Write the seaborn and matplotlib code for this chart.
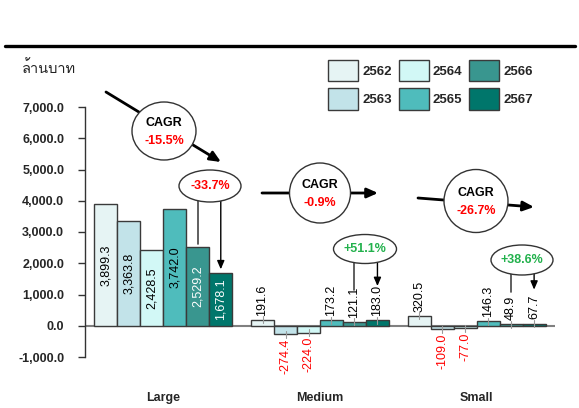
import numpy as np
import pandas as pd
import matplotlib
matplotlib.use("Agg")
import matplotlib.pyplot as plt
import seaborn as sns
from matplotlib import font_manager
from matplotlib.ft2font import FT2Font
from matplotlib.patches import Ellipse, FancyArrowPatch
from matplotlib.lines import Line2D
from matplotlib.transforms import Affine2D

# ---------------- data ----------------
categories = ["Large", "Medium", "Small"]
years = ["2562", "2563", "2564", "2565", "2566", "2567"]
large = [3899.3, 3363.8, 2428.5, 3742.0, 2529.2, 1678.1]
medium = [191.6, -274.4, -224.0, 173.2, 121.1, 183.0]
small = [320.5, -109.0, -77.0, 146.3, 48.9, 67.7]
cagr = ["-15.5%", "-0.9%", "-26.7%"]
yoy = ["-33.7%", "+51.1%", "+38.6%"]
yticks = [-1000, 0, 1000, 2000, 3000, 4000, 5000, 6000, 7000]
ylabel = "ล้านบาท"

palette = ["#E6F4F4", "#C2E3E9", "#D2F8F6", "#4FBCBC", "#39968F", "#00766B"]

rows = []
for cat, vals in zip(categories, [large, medium, small]):
    for y, v in zip(years, vals):
        rows.append({"cat": cat, "year": y, "value": v})
df = pd.DataFrame(rows)

# ---------------- fonts ----------------
sns.set_style("white")
thai_font = None
for f in font_manager.fontManager.ttflist:
    try:
        cm = FT2Font(f.fname).get_charmap()
        if 0x0E25 in cm and 0x0E49 in cm:
            thai_font = f.name
            break
    except Exception:
        pass
base = ["Liberation Sans", "DejaVu Sans"]
plt.rcParams["font.family"] = base
thai_family = ([thai_font] if thai_font else []) + base

W, H = 579, 408
fig = plt.figure(figsize=(W / 100, H / 100), dpi=100)
ax = fig.add_axes([85 / W, 51 / H, 470 / W, 250 / H])

sns.barplot(data=df, x="cat", y="value", hue="year", palette=palette,
            width=0.88, gap=0, edgecolor="#3a3a3a", linewidth=1.0,
            saturation=1, ax=ax, legend=True, errorbar=None, zorder=2)

ax.set_xlim(-0.5, 2.5)
ax.set_ylim(-1000, 7000)
ax.set_yticks(yticks)
ax.set_yticklabels([f"{t:,.1f}" for t in yticks], fontsize=9, fontweight="bold")
ax.set_xticks(range(3))
ax.set_xticklabels(categories, fontsize=9, fontweight="bold")
ax.tick_params(axis="x", length=0, pad=25)
ax.tick_params(axis="y", length=5, width=1, color="#333333", pad=10, left=True)
ax.set_xlabel("")
ax.set_ylabel("")
for s in ["top", "right", "bottom"]:
    ax.spines[s].set_visible(False)
ax.spines["left"].set_color("#333333")
ax.spines["left"].set_linewidth(1)
ax.axhline(0, color="#808080", lw=1.5, zorder=1)

# legend
handles, labels = ax.get_legend_handles_labels()
ax.legend(handles, labels, ncol=3, frameon=False, prop={"weight": "bold", "size": 9.5},
          handlelength=2.3, handleheight=2.1, handletextpad=0.3, columnspacing=0.5,
          labelspacing=0.55, loc="upper left",
          bbox_to_anchor=(328 / W, 1 - 60 / H), bbox_transform=fig.transFigure,
          borderpad=0, borderaxespad=0)

# pixel (top-left origin) transform
T = Affine2D().scale(1, -1).translate(0, H)


def to_px(x, y):
    dx, dy = ax.transData.transform((x, y))
    return dx, H - dy


# value labels
for hi, cont in enumerate(ax.containers):
    for ci, bar in enumerate(cont):
        v = bar.get_height()
        xc = bar.get_x() + bar.get_width() / 2
        if ci == 0:
            color = "white" if hi >= 4 else "black"
            ax.text(xc, v / 2, f"{v:,.1f}", rotation=90, ha="center", va="center",
                    fontsize=9, color=color, zorder=5)
        else:
            px, py = to_px(xc, v)
            fig.add_artist(Line2D([px, px], [py - 3.5, py + 3.5], transform=T,
                                  color="#9a9a9a", lw=0.8, zorder=6))
            if v >= 0:
                ax.annotate(f"{v:,.1f}", (xc, v), xytext=(0, 3), textcoords="offset points",
                            rotation=90, ha="center", va="bottom", fontsize=9,
                            color="black", zorder=5)
            else:
                ax.annotate(f"{v:,.1f}", (xc, v), xytext=(0, -3), textcoords="offset points",
                            rotation=90, ha="center", va="top", fontsize=9,
                            color="#FF0000", zorder=5)

# top rule
fig.add_artist(Line2D([5, 575], [46, 46], transform=T, color="black", lw=2.4))

# y unit label
fig.text(22 / W, 1 - 68 / H, ylabel, fontsize=10.5, color="#222222",
         family=thai_family, ha="left", va="center")


def arrow(p0, p1, lw=1.8, hw=8, hl=8):
    # hw: full head width in px, hl: head length in px
    style = f"-|>,head_width={hw / 2 * 0.72:.2f},head_length={hl * 0.72:.2f}"
    a = FancyArrowPatch(p0, p1, transform=T, arrowstyle=style,
                        color="black", lw=lw, shrinkA=0, shrinkB=0, mutation_scale=1, zorder=7)
    fig.add_artist(a)


def ellipse(c, w, h):
    e = Ellipse(c, w, h, transform=T, facecolor="white", edgecolor="#333333", lw=1, zorder=8)
    fig.add_artist(e)


# CAGR callouts (pixel positions)
cagr_circ = [((164, 131), 64, 58), ((320, 193), 61, 60), ((476, 201), 64, 63)]
cagr_arrows = [((106, 92), (221, 162)), ((262, 193), (378, 193)), ((418, 198), (534, 207))]
for (c, w, h), (p0, p1), txt in zip(cagr_circ, cagr_arrows, cagr):
    arrow(p0, p1, lw=2.0, hw=8, hl=9)
    ellipse(c, w, h)
    fig.text(c[0] / W, 1 - (c[1] - 8) / H, "CAGR", ha="center", va="center",
             fontsize=9, fontweight="bold", color="black", zorder=9)
    fig.text(c[0] / W, 1 - (c[1] + 10) / H, txt, ha="center", va="center",
             fontsize=9, fontweight="bold", color="#FF0000", zorder=9)

# YoY callouts
yoy_ell = [((210, 186), 62, 32), ((365, 249), 63, 29), ((522, 260), 62, 30)]
yoy_col = ["#FF0000", "#22B14C", "#22B14C"]
for gi, ((c, w, h), txt, col) in enumerate(zip(yoy_ell, yoy, yoy_col)):
    b5 = ax.containers[4][gi]
    b6 = ax.containers[5][gi]
    x5, y5 = to_px(b5.get_x() + b5.get_width() / 2, b5.get_height())
    x6, y6 = to_px(b6.get_x() + b6.get_width() / 2, b6.get_height())
    yb = c[1] + h / 2 - 1
    top5 = y5 - 3 if gi == 0 else y5 - 32
    top6 = y6 - 4 if gi == 0 else y6 - 34
    fig.add_artist(Line2D([x5, x5], [yb, top5], transform=T, color="#444444", lw=1.2, zorder=7))
    arrow((x6, yb), (x6, top6), lw=1.0, hw=6, hl=7)
    ellipse(c, w, h)
    fig.text(c[0] / W, 1 - c[1] / H, txt, ha="center", va="center",
             fontsize=9, fontweight="bold", color=col, zorder=9)

fig.savefig("out.png", dpi=100)
